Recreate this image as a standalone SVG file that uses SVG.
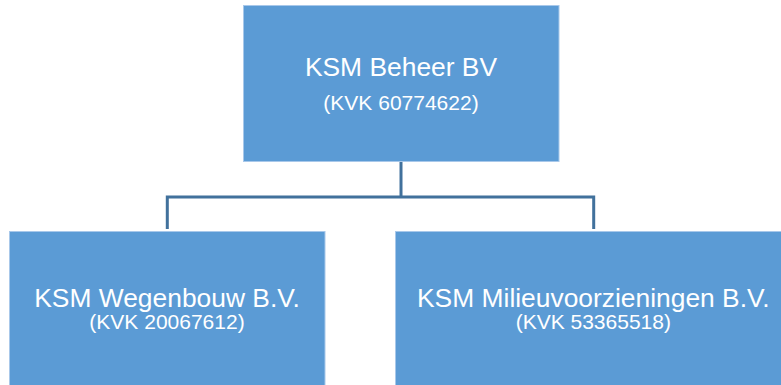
<svg xmlns="http://www.w3.org/2000/svg" width="781" height="385" viewBox="0 0 781 385">
  <style>
    .box { fill: #5B9BD5; stroke: #A8C8EA; stroke-width: 1; }
    .title { font-family: "Liberation Sans", Arial, sans-serif; font-size: 26.4px; fill: #ffffff; text-anchor: middle; }
    .sub { font-family: "Liberation Sans", Arial, sans-serif; font-size: 21px; fill: #ffffff; text-anchor: middle; }
    .conn { fill: none; stroke: #41719C; stroke-width: 3; }
  </style>
  <rect width="781" height="385" fill="#ffffff"/>
  <g id="connectors">
    <path class="conn" d="M401 162 V197"/>
    <path class="conn" d="M167.3 229 V197 H593.7 V229"/>
  </g>
  <g id="node-beheer">
    <rect class="box" x="243.5" y="5.5" width="315.5" height="156"/>
    <text class="title" x="401" y="76">KSM Beheer BV</text>
    <text class="sub" x="401" y="110">(KVK 60774622)</text>
  </g>
  <g id="node-wegenbouw">
    <rect class="box" x="9.5" y="231.5" width="315.5" height="160"/>
    <text class="title" x="167" y="307">KSM Wegenbouw B.V.</text>
    <text class="sub" x="167" y="329">(KVK 20067612)</text>
  </g>
  <g id="node-milieu">
    <rect class="box" x="395.5" y="231.5" width="396" height="160"/>
    <text class="title" x="593.3" y="307">KSM Milieuvoorzieningen B.V.</text>
    <text class="sub" x="593.3" y="329">(KVK 53365518)</text>
  </g>
</svg>
